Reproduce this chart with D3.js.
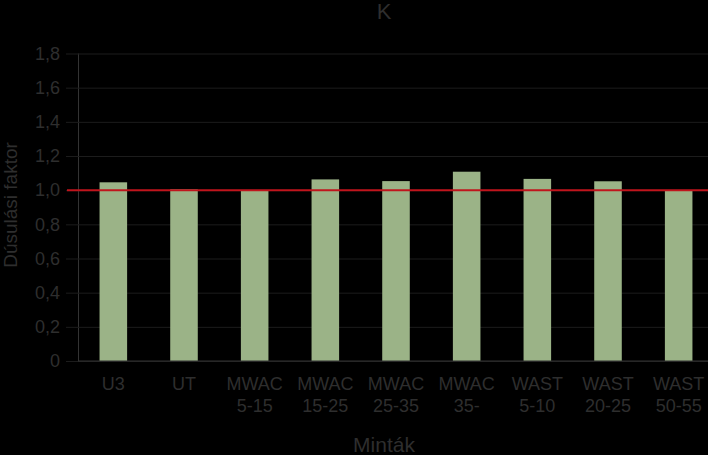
<!DOCTYPE html>
<html>
<head>
<meta charset="utf-8">
<script src="https://cdn.jsdelivr.net/npm/d3@7"></script>
<style>
  html, body { margin: 0; padding: 0; background: #000; }
  text { font-family: "Liberation Sans", Arial, sans-serif; }
</style>
</head>
<body>
<div id="chart"></div>
<script>
// data
let samples = [
  ["U3"], ["UT"], ["MWAC", "5-15"], ["MWAC", "15-25"], ["MWAC", "25-35"],
  ["MWAC", "35-"], ["WAST", "5-10"], ["WAST", "20-25"], ["WAST", "50-55"],
];
let factors = [1.046, 1.005, 0.999, 1.063, 1.053, 1.108, 1.066, 1.052, 0.999];
let yTicks = [0, 0.2, 0.4, 0.6, 0.8, 1.0, 1.2, 1.4, 1.6, 1.8];
let refLine = 1.0;

let width = 708,
  height = 455;
let textColor = "#2e2e2e";

let svg = d3
  .select("#chart")
  .append("svg")
  .attr("width", width)
  .attr("height", height)
  .style("background", "#000");

let keys = samples.map((s) => s.join(" "));

let x = d3.scaleBand().domain(keys).range([78, 714]);
let y = d3.scaleLinear().domain([0, 1.8]).range([361, 53.5]);

let fmt = (v) => (v === 0 ? "0" : v.toFixed(1).replace(".", ","));

// gridlines + y tick labels
let yAxis = d3
  .axisLeft(y)
  .tickValues(yTicks)
  .tickFormat(fmt)
  .tickSize(-(width - 78))
  .tickPadding(7);

let yg = svg.append("g").attr("transform", "translate(78,0)").call(yAxis);
yg.select(".domain")
  .attr("stroke", "#333")
  .attr("stroke-width", 1)
  .attr("d", "M0.5,53.5V361");
yg.selectAll(".tick line")
  .attr("stroke", "#1c1c1c")
  .attr("x1", -12);
yg.selectAll(".tick text")
  .attr("fill", textColor)
  .attr("font-size", 18)
  .attr("x", -18);

// bars
let barW = x.bandwidth() * 0.39;
svg
  .append("g")
  .selectAll("rect")
  .data(factors)
  .join("rect")
  .attr("x", (d, i) => x(keys[i]) + (x.bandwidth() - barW) / 2)
  .attr("y", (d) => y(d))
  .attr("width", barW)
  .attr("height", (d) => y(0) - y(d))
  .attr("fill", "#9bb387");

// x axis line
svg
  .append("line")
  .attr("x1", 78)
  .attr("x2", width)
  .attr("y1", y(0))
  .attr("y2", y(0))
  .attr("stroke", "#333");

// reference line at 1.0
svg
  .append("line")
  .attr("x1", 67)
  .attr("x2", width)
  .attr("y1", y(refLine))
  .attr("y2", y(refLine))
  .attr("stroke", "#c0141c")
  .attr("stroke-width", 2);

// x labels
samples.forEach((s, i) => {
  let cx = x(keys[i]) + x.bandwidth() / 2;
  let t = svg
    .append("text")
    .attr("x", cx)
    .attr("y", 390)
    .attr("text-anchor", "middle")
    .attr("fill", textColor)
    .attr("font-size", 18);
  s.forEach((line, j) =>
    t
      .append("tspan")
      .attr("x", cx)
      .attr("dy", j === 0 ? 0 : 22)
      .text(line)
  );
});

// titles
svg
  .append("text")
  .attr("x", 384)
  .attr("y", 19)
  .attr("text-anchor", "middle")
  .attr("fill", textColor)
  .attr("font-size", 22)
  .text("K");

svg
  .append("text")
  .attr("x", 384)
  .attr("y", 452)
  .attr("text-anchor", "middle")
  .attr("fill", textColor)
  .attr("font-size", 21)
  .text("Minták");

svg
  .append("text")
  .attr("transform", "translate(17,205) rotate(-90)")
  .attr("text-anchor", "middle")
  .attr("fill", textColor)
  .attr("font-size", 19)
  .text("Dúsulási faktor");
</script>
</body>
</html>
